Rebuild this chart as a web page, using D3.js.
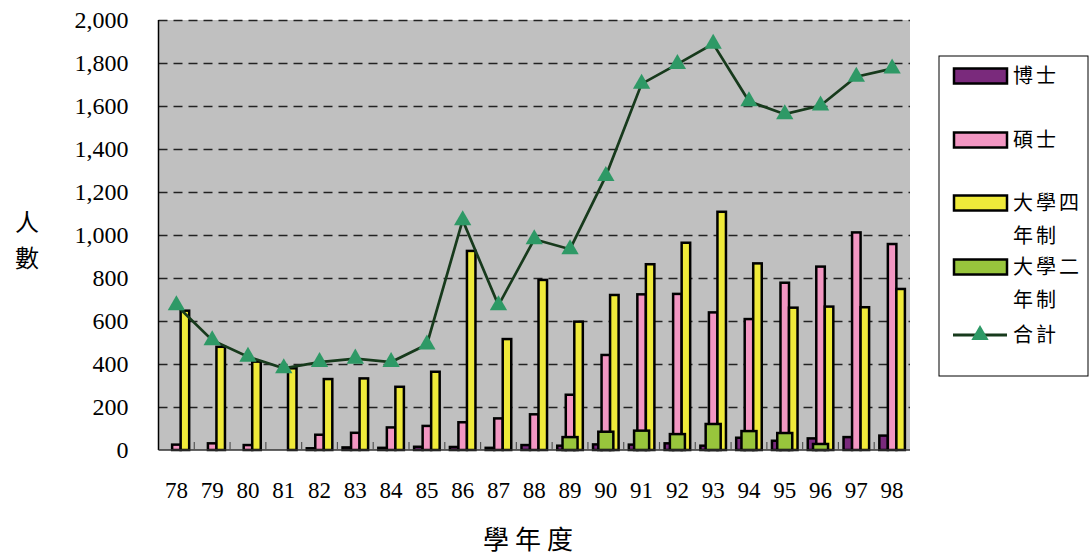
<!DOCTYPE html>
<head>
<meta charset="utf-8">
<script src="https://cdn.jsdelivr.net/npm/d3@7/dist/d3.min.js"></script>
<style>
body { margin: 0; background: #fff; }
</style>
</head>
<body>
<script>
// school years (民國)
var years = ["78","79","80","81","82","83","84","85","86","87","88","89","90","91","92","93","94","95","96","97","98"];
var phd    = [0, 0, 0, 0, 8, 12, 10, 15, 14, 10, 23, 20, 26, 25, 31, 20, 57, 43, 54, 60, 67];
var master = [25, 31, 23, 0, 71, 80, 105, 112, 129, 147, 166, 257, 442, 724, 726, 640, 609, 778, 853, 1012, 958];
var ug4    = [648, 480, 411, 380, 330, 333, 294, 364, 926, 516, 791, 597, 721, 864, 964, 1108, 868, 662, 667, 664, 749];
var ug2    = [0, 0, 0, 0, 0, 0, 0, 0, 0, 0, 0, 60, 85, 90, 74, 121, 88, 79, 28, 0, 0];
var total  = [673, 511, 434, 380, 409, 425, 409, 491, 1069, 673, 980, 934, 1274, 1703, 1795, 1889, 1622, 1562, 1602, 1736, 1774];
var yTicks = [0, 200, 400, 600, 800, 1000, 1200, 1400, 1600, 1800, 2000];
var names  = ["博士", "碩士", "大學四年制", "大學二年制", "合計"];
var colors = ["#7a2a7c", "#f296c2", "#efea3a", "#98c53c"];

var width = 1090, height = 556;
// plot area (note: "top" is a reserved window name, so use pTop)
var pLeft = 158.5, pRight = 910, pTop = 20, pBottom = 450;
var serif = "'Liberation Serif', 'Times New Roman', serif";
var cjk = "'Noto Sans CJK TC', sans-serif";

var svg = d3.select("body").append("svg")
  .attr("width", width)
  .attr("height", height);

var x = d3.scaleBand().domain(years).range([pLeft, pRight]).padding(0);
var y = d3.scaleLinear().domain([0, 2000]).range([pBottom, pTop]);
var keys = ["phd", "master", "ug4"];
var x1 = d3.scaleBand().domain(keys).range([0, x.bandwidth()]).paddingInner(0).paddingOuter(0.6);

// plot background
svg.append("rect")
  .attr("x", pLeft).attr("y", pTop)
  .attr("width", pRight - pLeft).attr("height", pBottom - pTop)
  .attr("fill", "#c0c0c0");

// dashed grid lines
svg.append("g")
  .attr("transform", "translate(" + pLeft + ",0)")
  .call(d3.axisLeft(y).tickValues(yTicks.slice(1)).tickSize(-(pRight - pLeft)).tickFormat(""))
  .call(function(g) {
    g.select(".domain").remove();
    g.selectAll("line").attr("stroke", "#222").attr("stroke-width", 1.3).attr("stroke-dasharray", "9,6");
  });

// y labels
svg.append("g")
  .attr("transform", "translate(" + pLeft + ",0)")
  .call(d3.axisLeft(y).tickValues(yTicks).tickSize(0).tickPadding(30).tickFormat(d3.format(",")))
  .call(function(g) {
    g.select(".domain").remove();
    g.selectAll("text").attr("font-family", serif).attr("font-size", 24).attr("fill", "#000");
  });

// bars
var series = [phd, master, ug4];
series.forEach(function(vals, k) {
  svg.append("g").selectAll("rect")
    .data(years.map(function(yr, i) { return {yr: yr, v: vals[i]}; }).filter(function(d) { return d.v > 0; }))
    .enter().append("rect")
    .attr("x", function(d) { return x(d.yr) + x1(keys[k]); })
    .attr("y", function(d) { return y(d.v); })
    .attr("width", x1.bandwidth())
    .attr("height", function(d) { return pBottom - y(d.v); })
    .attr("fill", colors[k])
    .attr("stroke", "#000")
    .attr("stroke-width", 2.5);
});

// 2-year program bars, wider and on top
var gw = x.bandwidth() * 0.42;
svg.append("g").selectAll("rect")
  .data(years.map(function(yr, i) { return {yr: yr, v: ug2[i]}; }).filter(function(d) { return d.v > 0; }))
  .enter().append("rect")
  .attr("x", function(d) { return x(d.yr) + x.bandwidth() / 2 - gw / 2; })
  .attr("y", function(d) { return y(d.v); })
  .attr("width", gw)
  .attr("height", function(d) { return pBottom - y(d.v); })
  .attr("fill", colors[3])
  .attr("stroke", "#000")
  .attr("stroke-width", 2.5);

// axes lines + category ticks
svg.append("line").attr("x1", pLeft).attr("x2", pLeft).attr("y1", pTop).attr("y2", pBottom)
  .attr("stroke", "#000").attr("stroke-width", 1.5);
svg.append("line").attr("x1", pLeft).attr("x2", pRight).attr("y1", pBottom).attr("y2", pBottom)
  .attr("stroke", "#333").attr("stroke-width", 1.5);
svg.append("g").selectAll("line")
  .data(years.slice(1))
  .enter().append("line")
  .attr("x1", function(d) { return x(d); }).attr("x2", function(d) { return x(d); })
  .attr("y1", pBottom - 8).attr("y2", pBottom)
  .attr("stroke", "#555").attr("stroke-width", 1.2);

// x labels
svg.append("g").selectAll("text")
  .data(years).enter().append("text")
  .attr("x", function(d) { return x(d) + x.bandwidth() / 2; })
  .attr("y", 498)
  .attr("text-anchor", "middle")
  .attr("font-family", serif).attr("font-size", 23)
  .text(function(d) { return d; });

// total line
var line = d3.line()
  .x(function(d, i) { return x(years[i]) + x.bandwidth() / 2; })
  .y(function(d) { return y(d); });
svg.append("path")
  .datum(total)
  .attr("d", line)
  .attr("fill", "none")
  .attr("stroke", "#173a1c")
  .attr("stroke-width", 2.7);
var tri = d3.symbol().type(d3.symbolTriangle).size(130);
svg.append("g").selectAll("path")
  .data(total).enter().append("path")
  .attr("d", tri)
  .attr("transform", function(d, i) { return "translate(" + (x(years[i]) + x.bandwidth() / 2) + "," + y(d) + ")"; })
  .attr("fill", "#2e9966");

// axis titles
svg.append("text").attr("x", 27).attr("y", 231).attr("text-anchor", "middle")
  .attr("font-family", cjk).attr("font-size", 24).text("人");
svg.append("text").attr("x", 27).attr("y", 267).attr("text-anchor", "middle")
  .attr("font-family", cjk).attr("font-size", 24).text("數");
svg.append("text").attr("x", 531).attr("y", 549).attr("text-anchor", "middle")
  .attr("font-family", cjk).attr("font-size", 26).attr("letter-spacing", 6).text("學年度");

// legend
var lg = svg.append("g");
lg.append("rect").attr("x", 939).attr("y", 56).attr("width", 149).attr("height", 320)
  .attr("fill", "#fff").attr("stroke", "#000").attr("stroke-width", 1);
var legendY = [76, 140, 203, 267, 335];
names.forEach(function(n, i) {
  var cy = legendY[i];
  if (i < 4) {
    lg.append("rect").attr("x", 954).attr("y", cy - 7.5).attr("width", 53).attr("height", 15)
      .attr("fill", colors[i]).attr("stroke", "#000").attr("stroke-width", 2.5);
  } else {
    lg.append("line").attr("x1", 953).attr("x2", 1007).attr("y1", cy).attr("y2", cy)
      .attr("stroke", "#173a1c").attr("stroke-width", 3);
    lg.append("path").attr("d", tri).attr("transform", "translate(980," + cy + ")").attr("fill", "#2e9966");
  }
  var t = lg.append("text").attr("font-family", cjk).attr("font-size", 20).attr("letter-spacing", 3);
  var lines = n.length > 3 ? [n.slice(0, 3), n.slice(3)] : [n];
  lines.forEach(function(s, j) {
    t.append("tspan").attr("x", 1013).attr("y", cy + 7 + j * 33).text(s);
  });
});
</script>
</body>
